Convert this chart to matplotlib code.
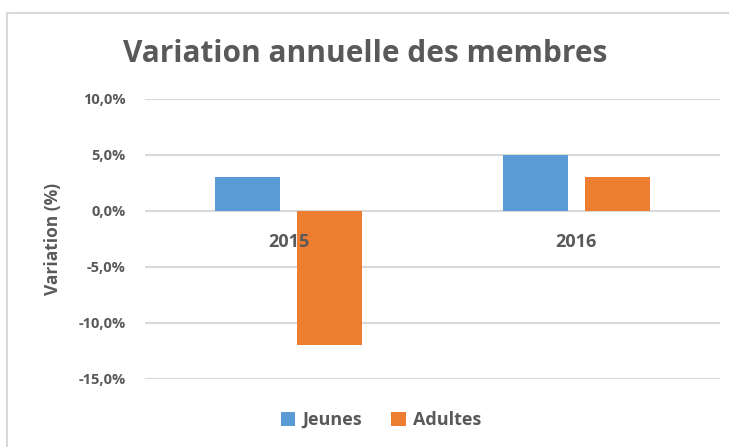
import numpy as np
import matplotlib.pyplot as plt
from matplotlib.patches import Rectangle

# data
years = ['2015', '2016']
jeunes = [3.0, 5.0]
adultes = [-12.0, 3.0]
yticks = [10, 5, 0, -5, -10, -15]

plt.rcParams['font.family'] = ['Open Sans', 'DejaVu Sans']
grey = '#595959'

fig = plt.figure(figsize=(7.29, 4.47), dpi=100)
ax = fig.add_axes([145/729, 1 - 379/447, 575/729, 280/447])

x = np.arange(len(years))
w = 0.226
off = 0.1426
ax.bar(x - off, jeunes, w, color='#5B9BD5', label='Jeunes', zorder=3)
ax.bar(x + off, adultes, w, color='#ED7D31', label='Adultes', zorder=3)

ax.set_xlim(-0.5, 1.5)
ax.set_ylim(-15, 10)
ax.set_yticks(yticks)
ax.set_yticklabels([('%.1f%%' % v).replace('.', ',') for v in yticks],
                   fontsize=10.5, fontweight='bold', color=grey)
ax.tick_params(axis='y', length=0, pad=14)
ax.grid(axis='y', color='#D9D9D9', lw=1.5)
ax.yaxis.set_zorder(0.5)
ax.xaxis.set_zorder(5)

ax.spines['bottom'].set_position(('data', 0))
for s in ax.spines.values():
    s.set_visible(False)
ax.set_xticks(x)
ax.set_xticklabels(years, fontsize=13, fontweight='bold', color=grey)
ax.tick_params(axis='x', length=0, pad=16)

ax.set_ylabel('Variation (%)', fontsize=12.5, fontweight='bold', color=grey, labelpad=12)

fig.text(365/729, 1 - 54/447, 'Variation annuelle des membres', ha='center', va='center',
         fontsize=21.5, fontweight='bold', color=grey)

fig.legend(loc='center', bbox_to_anchor=(381/729, 1 - 420/447), ncol=2, frameon=False,
           handlelength=0.8, handleheight=0.8, handletextpad=0.4, columnspacing=1.6,
           prop={'size': 13, 'weight': 'bold'}, labelcolor=grey)

fig.patches.append(Rectangle((7/729, -0.1), 1.0, 1 - 13/447 + 0.1, transform=fig.transFigure,
                             fill=False, edgecolor='#D9D9D9', lw=1.5))

fig.savefig('out.png', dpi=100)
